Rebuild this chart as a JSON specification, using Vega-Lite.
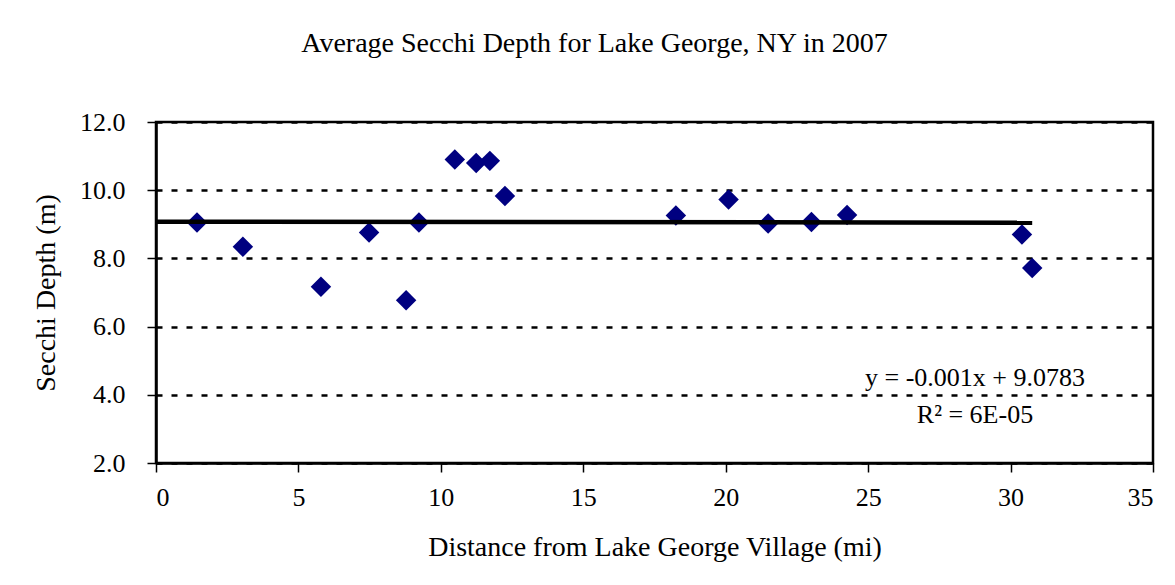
{
  "$schema": "https://vega.github.io/schema/vega-lite/v6.json",
  "width": 997,
  "height": 341,
  "autosize": "none",
  "padding": {"left": 156, "top": 122, "right": 22, "bottom": 122},
  "background": "white",
  "config": {
    "font": "Liberation Serif",
    "view": {"stroke": "black", "strokeWidth": 2.5},
    "axis": {
      "labelFont": "Liberation Serif",
      "titleFont": "Liberation Serif",
      "labelColor": "black",
      "titleColor": "black",
      "labelFontSize": 26,
      "titleFontSize": 28,
      "titleFontWeight": "normal",
      "domainColor": "black",
      "domainWidth": 2.5,
      "tickColor": "black",
      "tickWidth": 1.5,
      "tickSize": 9
    }
  },
  "title": {
    "text": "Average Secchi Depth for Lake George, NY in 2007",
    "font": "Liberation Serif",
    "fontSize": 28,
    "fontWeight": "normal",
    "color": "black",
    "anchor": "middle",
    "dx": -60,
    "offset": 51
  },
  "datasets": {
    "points": [
      {"distance": 1.44, "depth": 9.05},
      {"distance": 3.05, "depth": 8.34},
      {"distance": 5.79, "depth": 7.17},
      {"distance": 7.48, "depth": 8.76},
      {"distance": 8.78, "depth": 6.77},
      {"distance": 9.23, "depth": 9.05},
      {"distance": 10.49, "depth": 10.9},
      {"distance": 11.24, "depth": 10.8},
      {"distance": 11.72, "depth": 10.86},
      {"distance": 12.25, "depth": 9.83},
      {"distance": 18.25, "depth": 9.26},
      {"distance": 20.1, "depth": 9.73},
      {"distance": 21.49, "depth": 9.02},
      {"distance": 23.01, "depth": 9.07},
      {"distance": 24.26, "depth": 9.27},
      {"distance": 30.4, "depth": 8.7},
      {"distance": 30.76, "depth": 7.72}
    ],
    "trend": [
      {"distance": 0, "depth": 9.0783},
      {"distance": 30.76, "depth": 9.0475}
    ],
    "labels": [
      {"distance": 28.75, "depth": 4.27, "text": "y = -0.001x + 9.0783"},
      {"distance": 28.75, "depth": 3.16, "text": "R² = 6E-05"}
    ]
  },
  "layer": [
    {
      "data": {"name": "points"},
      "mark": {"type": "point", "shape": "diamond", "filled": true, "color": "#000080", "size": 420, "opacity": 1},
      "encoding": {
        "x": {
          "field": "distance",
          "type": "quantitative",
          "scale": {"domain": [0, 35], "nice": false, "zero": false},
          "axis": {
            "title": "Distance from Lake George Village (mi)",
            "values": [0, 5, 10, 15, 20, 25, 30, 35],
            "grid": false,
            "labelPadding": 12,
            "titlePadding": 23
          }
        },
        "y": {
          "field": "depth",
          "type": "quantitative",
          "scale": {"domain": [2, 12], "nice": false, "zero": false},
          "axis": {
            "title": "Secchi Depth (m)",
            "values": [2, 4, 6, 8, 10, 12],
            "format": ".1f",
            "grid": true,
            "gridColor": "black",
            "gridWidth": 2.5,
            "gridDash": [6, 9],
            "labelPadding": 22,
            "titlePadding": 19
          }
        }
      }
    },
    {
      "data": {"name": "trend"},
      "mark": {"type": "line", "color": "black", "strokeWidth": 4.5},
      "encoding": {
        "x": {"field": "distance", "type": "quantitative"},
        "y": {"field": "depth", "type": "quantitative"}
      }
    },
    {
      "data": {"name": "labels"},
      "mark": {"type": "text", "font": "Liberation Serif", "fontSize": 26, "color": "black", "align": "center", "baseline": "alphabetic"},
      "encoding": {
        "x": {"field": "distance", "type": "quantitative"},
        "y": {"field": "depth", "type": "quantitative"},
        "text": {"field": "text"}
      }
    }
  ]
}
